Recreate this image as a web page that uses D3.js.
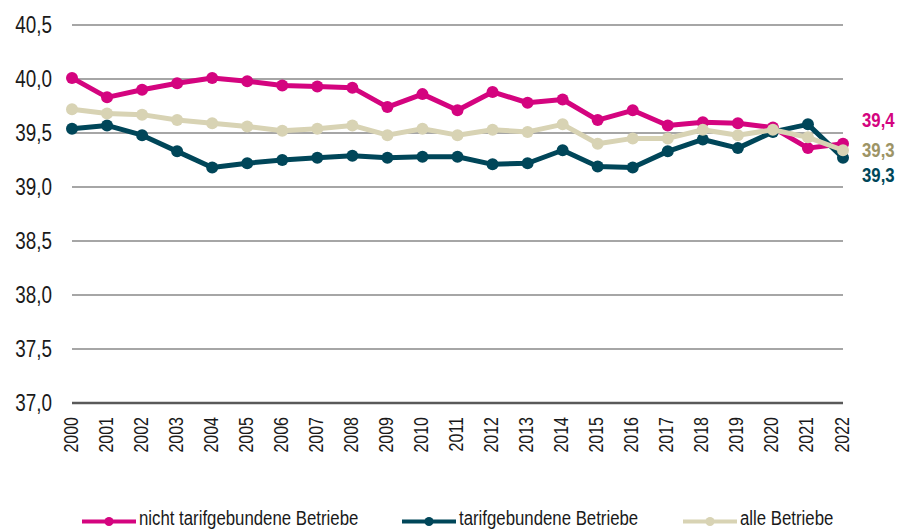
<!DOCTYPE html>
<html>
<head>
<meta charset="utf-8">
<script src="https://cdn.jsdelivr.net/npm/d3@7"></script>
<style>
  body { margin: 0; background: #fff; }
  svg { display: block; font-family: "Liberation Sans", Arial, sans-serif; }
</style>
</head>
<body>
<script>
const svgWidth = 901;
const svgHeight = 532;

// data
const years = ["2000", "2001", "2002", "2003", "2004", "2005", "2006", "2007", "2008", "2009", "2010",
    "2011", "2012", "2013", "2014", "2015", "2016", "2017", "2018", "2019", "2020", "2021", "2022"];
const nichtTarif = [40.01, 39.83, 39.90, 39.96, 40.01, 39.98, 39.94, 39.93, 39.92, 39.74, 39.86,
    39.71, 39.88, 39.78, 39.81, 39.62, 39.71, 39.57, 39.60, 39.59, 39.55, 39.36, 39.40];
const tarif = [39.54, 39.57, 39.48, 39.33, 39.18, 39.22, 39.25, 39.27, 39.29, 39.27, 39.28,
    39.28, 39.21, 39.22, 39.34, 39.19, 39.18, 39.33, 39.44, 39.36, 39.51, 39.58, 39.27];
const alle = [39.72, 39.68, 39.67, 39.62, 39.59, 39.56, 39.52, 39.54, 39.57, 39.48, 39.54,
    39.48, 39.53, 39.51, 39.58, 39.40, 39.45, 39.45, 39.53, 39.48, 39.53, 39.46, 39.34];
const yTicks = [37.0, 37.5, 38.0, 38.5, 39.0, 39.5, 40.0, 40.5];
const seriesNames = ["nicht tarifgebundene Betriebe", "tarifgebundene Betriebe", "alle Betriebe"];
const endLabels = ["39,4", "39,3", "39,3"];

const series = [
    {name: seriesNames[0], values: nichtTarif, color: "#d4047f", labelColor: "#d4047f", label: endLabels[0], labelY: 127, legendX: 82},
    {name: seriesNames[1], values: tarif, color: "#004659", labelColor: "#004659", label: endLabels[2], labelY: 182, legendX: 402},
    {name: seriesNames[2], values: alle, color: "#d8d3b4", labelColor: "#9d9466", label: endLabels[1], labelY: 157, legendX: 683}
];

const x = d3.scalePoint().domain(years).range([72, 843]).padding(0);
const y = d3.scaleLinear().domain([37, 40.5]).range([403, 25]);

const svg = d3.select("body").append("svg")
    .attr("width", svgWidth)
    .attr("height", svgHeight);

// gridlines
svg.append("g").selectAll("line")
    .data(yTicks)
    .join("line")
    .attr("x1", 72)
    .attr("x2", 843)
    .attr("y1", d => y(d))
    .attr("y2", d => y(d))
    .attr("stroke", d => d === 37 ? "#595959" : "#a6a6a6")
    .attr("stroke-width", d => d === 37 ? 2.5 : 2);

// y labels
svg.append("g").selectAll("text")
    .data(yTicks)
    .join("text")
    .attr("transform", d => `translate(52,${y(d) + 8}) scale(0.82,1)`)
    .attr("text-anchor", "end")
    .attr("font-size", 23)
    .attr("fill", "#1a1a1a")
    .text(d => d3.format(".1f")(d).replace(".", ","));

// x labels
svg.append("g").selectAll("text")
    .data(years)
    .join("text")
    .attr("transform", d => `translate(${x(d) + 5.5},417) rotate(-90) scale(0.8,1)`)
    .attr("text-anchor", "end")
    .attr("font-size", 20)
    .attr("fill", "#1a1a1a")
    .text(d => d);

const line = d3.line()
    .x((d, i) => x(years[i]))
    .y(d => y(d));

series.forEach(function (s) {
    const g = svg.append("g");
    g.append("path")
        .attr("d", line(s.values))
        .attr("fill", "none")
        .attr("stroke", s.color)
        .attr("stroke-width", 5)
        .attr("stroke-linejoin", "round");
    g.selectAll("circle")
        .data(s.values)
        .join("circle")
        .attr("cx", (d, i) => x(years[i]))
        .attr("cy", d => y(d))
        .attr("r", 6)
        .attr("fill", s.color);

    // end label
    svg.append("text")
        .attr("transform", `translate(${x("2022") + 19},${s.labelY}) scale(0.86,1)`)
        .attr("font-size", 19.5)
        .attr("font-weight", "bold")
        .attr("fill", s.labelColor)
        .text(s.label);

    // legend
    const lg = svg.append("g");
    lg.append("line")
        .attr("x1", s.legendX)
        .attr("x2", s.legendX + 54)
        .attr("y1", 521.5)
        .attr("y2", 521.5)
        .attr("stroke", s.color)
        .attr("stroke-width", 4);
    lg.append("circle")
        .attr("cx", s.legendX + 27)
        .attr("cy", 521.5)
        .attr("r", 4.5)
        .attr("fill", s.color);
    lg.append("text")
        .attr("transform", `translate(${s.legendX + 57},525) scale(0.8,1)`)
        .attr("font-size", 21)
        .attr("fill", "#1a1a1a")
        .text(s.name);
});
</script>
</body>
</html>
